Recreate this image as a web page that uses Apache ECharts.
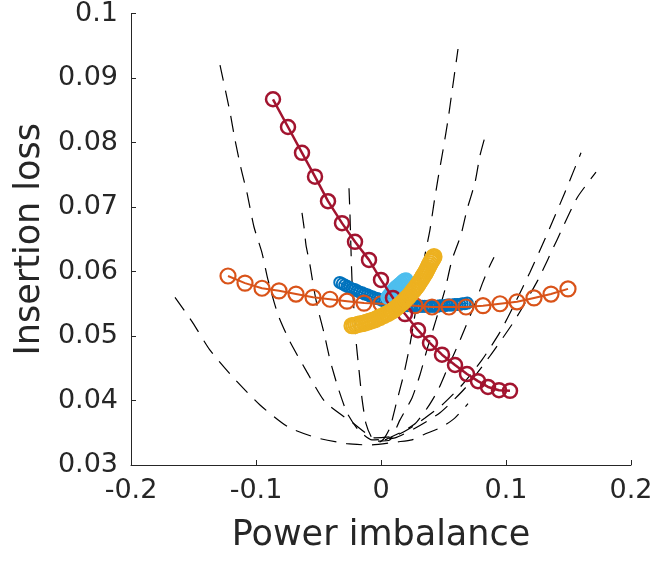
<!DOCTYPE html>
<html>
<head>
<meta charset="utf-8">
<script src="https://cdn.jsdelivr.net/npm/echarts@6/dist/echarts.min.js"></script>
<style>
  html, body { margin: 0; padding: 0; background: #fff; }
  #chart { width: 657px; height: 561px; }
</style>
</head>
<body>
<div id="chart"></div>
<script>
// Axis ranges
const xRange = { min: -0.2, max: 0.2, step: 0.1 };
const yRange = { min: 0.03, max: 0.1, step: 0.01 };

// Reference sweep curves (black dashed)
const sweepAx = [-0.1648,-0.1504,-0.1368,-0.1184,-0.0968,-0.0744,-0.0512,-0.0272,-0.0088,0.0136,0.0248,0.0352,0.0488,0.0592,0.0696];
const sweepAy = [0.0560,0.0520,0.0478,0.0436,0.0393,0.0359,0.0342,0.0333,0.0331,0.0336,0.0339,0.0348,0.0359,0.0373,0.0395];

const sweepBx = [-0.1288,-0.1208,-0.1168,-0.1120,-0.1072,-0.1016,-0.0952,-0.0904,-0.0824,-0.0728,-0.0592,-0.0448,-0.0224,-0.0048,0.0112,0.0232,0.0352,0.0488,0.0648,0.0808,0.0952,0.1072,0.1192,0.1336,0.1472,0.1600];
const sweepBy = [0.0920,0.0847,0.0804,0.0760,0.0722,0.0669,0.0629,0.0587,0.0533,0.0491,0.0444,0.0398,0.0365,0.0342,0.0345,0.0357,0.0373,0.0393,0.0424,0.0463,0.0506,0.0551,0.0599,0.0661,0.0723,0.0784];

const sweepCx = [-0.0632,-0.0616,-0.0600,-0.0568,-0.0536,-0.0504,-0.0456,-0.0408,-0.0344,-0.0272,-0.0184,-0.0072,0.0112,0.0272,0.0472,0.0672,0.0872,0.1072,0.1256,0.1408,0.1568,0.1720];
const sweepCy = [0.0691,0.0669,0.0641,0.0610,0.0572,0.0541,0.0505,0.0463,0.0420,0.0381,0.0355,0.0339,0.0342,0.0357,0.0381,0.0419,0.0469,0.0525,0.0587,0.0649,0.0714,0.0754];

const sweepDx = [-0.0256,-0.0248,-0.0240,-0.0232,-0.0216,-0.0200,-0.0176,-0.0152,-0.0120,-0.0072,-0.0008,0.0024,0.0072,0.0128,0.0184,0.0232,0.0272,0.0312,0.0352,0.0392,0.0424,0.0456,0.0496,0.0536,0.0568,0.0616];
const sweepDy = [0.0729,0.0687,0.0633,0.0586,0.0540,0.0493,0.0447,0.0403,0.0364,0.0342,0.0336,0.0341,0.0358,0.0400,0.0442,0.0487,0.0533,0.0580,0.0626,0.0665,0.0706,0.0744,0.0788,0.0835,0.0879,0.0945];

const sweepEx = [-0.0024,0.0072,0.0152,0.0248,0.0312,0.0368,0.0440,0.0512,0.0568,0.0640,0.0688,0.0752,0.0792,0.0832];
const sweepEy = [0.0337,0.0339,0.0370,0.0404,0.0440,0.0479,0.0525,0.0572,0.0618,0.0657,0.0696,0.0738,0.0780,0.0809];

const sweepFx = [0.0032,0.0152,0.0272,0.0376,0.0456,0.0528,0.0600,0.0672,0.0744,0.0808,0.0856,0.0904];
const sweepFy = [0.0339,0.0350,0.0364,0.0390,0.0416,0.0448,0.0479,0.0512,0.0546,0.0580,0.0603,0.0622];

// Measured sweeps
const redX = [-0.0864,-0.0744,-0.0632,-0.0528,-0.0424,-0.0312,-0.0208,-0.0096,0.0000,0.0096,0.0192,0.0296,0.0392,0.0488,0.0592,0.0688,0.0776,0.0856,0.0944,0.1032];
const redY = [0.0867,0.0824,0.0784,0.0747,0.0709,0.0675,0.0646,0.0618,0.0587,0.0559,0.0534,0.0509,0.0489,0.0471,0.0455,0.0441,0.0430,0.0421,0.0416,0.0415];

const orangeX = [-0.1224,-0.1088,-0.0952,-0.0816,-0.0680,-0.0544,-0.0408,-0.0272,-0.0136,0.0000,0.0136,0.0272,0.0408,0.0544,0.0680,0.0816,0.0952,0.1088,0.1224,0.1360,0.1496];
const orangeY = [0.0593,0.0582,0.0574,0.0570,0.0565,0.0560,0.0557,0.0554,0.0551,0.0550,0.0548,0.0547,0.0545,0.0545,0.0545,0.0547,0.0550,0.0553,0.0559,0.0565,0.0573];

const blueX = [-0.033,-0.031,-0.029,-0.027,-0.025,-0.023,-0.021,-0.019,-0.017,-0.015,-0.013,-0.011,-0.009,-0.007,-0.005,-0.003,-0.001,
  0.001,0.003,0.005,0.007,0.009,0.011,0.013,0.015,0.017,0.019,0.021,0.023,0.025,0.027,0.029,0.031,0.033,0.035,0.037,0.039,
  0.041,0.043,0.045,0.047,0.049,0.051,0.053,0.055,0.057,0.059,0.061,0.063,0.065,0.067,0.069];
const blueY = [0.0583,0.0581,0.0579,0.0577,0.0575,0.0573,0.0572,0.0570,0.0568,0.0567,0.0565,0.0564,0.0562,0.0561,0.0559,0.0558,0.0557,
  0.0555,0.0554,0.0553,0.0552,0.0551,0.0550,0.0550,0.0549,0.0548,0.0548,0.0547,0.0547,0.0547,0.0546,0.0546,0.0546,0.0546,0.0546,0.0546,0.0546,
  0.0546,0.0546,0.0546,0.0547,0.0547,0.0547,0.0548,0.0548,0.0548,0.0549,0.0549,0.0549,0.0550,0.0550,0.0551];

const skyX = [0.0056,0.0068,0.0080,0.0092,0.0104,0.0116,0.0128,0.0140,0.0152,0.0164,0.0176,0.0188,0.0200];
const skyY = [0.0560,0.0563,0.0566,0.0569,0.0571,0.0574,0.0576,0.0578,0.0580,0.0582,0.0584,0.0586,0.0587];

const yellowX = [-0.0232,-0.0216,-0.0200,-0.0184,-0.0168,-0.0152,-0.0136,-0.0120,-0.0104,-0.0088,-0.0072,-0.0056,-0.0040,-0.0024,-0.0008,
  0.0008,0.0024,0.0040,0.0056,0.0072,0.0088,0.0100,0.0112,0.0124,0.0136,0.0148,0.0160,0.0172,0.0184,0.0196,0.0208,0.0220,0.0232,
  0.0244,0.0256,0.0266,0.0276,0.0286,0.0296,0.0306,0.0316,0.0326,0.0336,0.0344,0.0352,0.0360,0.0368,0.0376,0.0384,0.0392,0.0400,
  0.0406,0.0412,0.0418,0.0424];
const yellowY = [0.0516,0.0516,0.0517,0.0518,0.0519,0.0519,0.0520,0.0521,0.0522,0.0523,0.0524,0.0525,0.0526,0.0528,0.0529,
  0.0531,0.0532,0.0534,0.0535,0.0537,0.0539,0.0540,0.0542,0.0544,0.0546,0.0548,0.0550,0.0552,0.0554,0.0557,0.0559,0.0561,0.0564,
  0.0567,0.0570,0.0572,0.0575,0.0577,0.0580,0.0583,0.0586,0.0589,0.0592,0.0595,0.0597,0.0600,0.0603,0.0606,0.0609,0.0612,0.0615,
  0.0617,0.0619,0.0621,0.0623];

const pairs = (xs, ys) => xs.map((x, i) => [x, ys[i]]);
const axisInk = '#262626';
const font = 'DejaVu Sans';

function dashed(xs, ys) {
  return {
    type: 'line', data: pairs(xs, ys), smooth: 0.2, showSymbol: false, z: 1,
    lineStyle: { color: '#000', width: 1.2, type: [16, 10] }, silent: true
  };
}
function marked(xs, ys, color, size, lw, bw, z) {
  return {
    type: 'line', data: pairs(xs, ys), symbol: 'circle', symbolSize: size, z: z,
    lineStyle: { color: color, width: lw },
    itemStyle: { color: 'rgba(0,0,0,0)', borderColor: color, borderWidth: bw },
    silent: true
  };
}

const chart = echarts.init(document.getElementById('chart'), null, { renderer: 'canvas' });
chart.setOption({
  animation: false,
  backgroundColor: '#fff',
  grid: { left: 131, right: 26, top: 13.5, bottom: 96, containLabel: false },
  xAxis: {
    type: 'value', min: xRange.min, max: xRange.max, interval: xRange.step,
    name: 'Power imbalance', nameLocation: 'middle', nameGap: 53,
    nameTextStyle: { fontFamily: font, fontSize: 35, color: axisInk },
    axisLine: { show: true, onZero: false, lineStyle: { color: axisInk, width: 1 } },
    axisTick: { show: true, inside: true, length: 5, lineStyle: { color: axisInk } },
    axisLabel: { fontFamily: font, fontSize: 27, color: axisInk, margin: 12,
      formatter: v => String(Number(v.toFixed(1))) },
    splitLine: { show: false }
  },
  yAxis: {
    type: 'value', min: yRange.min, max: yRange.max, interval: yRange.step,
    name: 'Insertion loss', nameLocation: 'middle', nameGap: 78,
    nameTextStyle: { fontFamily: font, fontSize: 35, color: axisInk },
    axisLine: { show: true, onZero: false, lineStyle: { color: axisInk, width: 1 } },
    axisTick: { show: true, inside: true, length: 5, lineStyle: { color: axisInk } },
    axisLabel: { fontFamily: font, fontSize: 27, color: axisInk, margin: 13,
      formatter: v => String(Number(v.toFixed(2))) },
    splitLine: { show: false }
  },
  series: [
    dashed(sweepAx, sweepAy),
    dashed(sweepBx, sweepBy),
    dashed(sweepCx, sweepCy),
    dashed(sweepDx, sweepDy),
    dashed(sweepEx, sweepEy),
    dashed(sweepFx, sweepFy),
    marked(blueX, blueY, '#0072BD', 11, 1.5, 2, 2),
    marked(orangeX, orangeY, '#D95319', 15, 2, 2.2, 3),
    marked(skyX, skyY, '#4DBEEE', 13, 1.5, 2.5, 4),
    marked(redX, redY, '#A2142F', 14, 2.5, 2.5, 5),
    marked(yellowX, yellowY, '#EDB120', 15, 1.5, 2.2, 6)
  ]
});
</script>
</body>
</html>
